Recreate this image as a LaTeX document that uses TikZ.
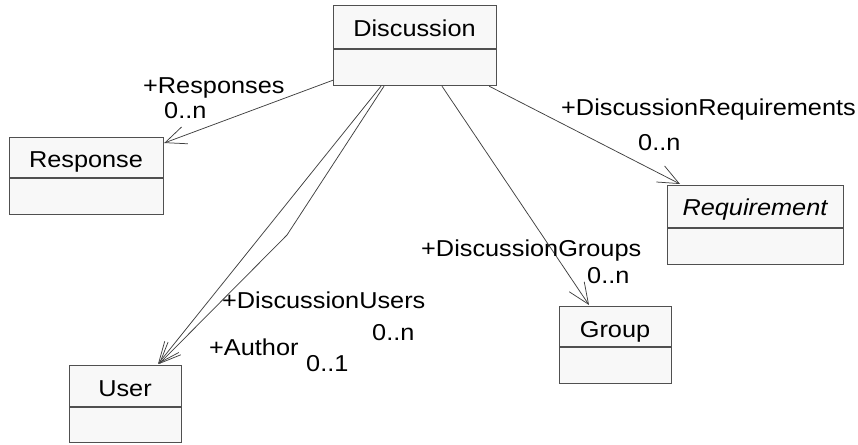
\documentclass[tikz,border=0pt]{standalone}
\usepackage{fontspec}
\setmainfont{Liberation Sans}[FakeStretch=1.1]
\usetikzlibrary{arrows.meta,calc}

\definecolor{boxfill}{HTML}{F8F8F8}
\definecolor{boxline}{HTML}{505050}
\definecolor{assocline}{HTML}{404040}

\tikzset{
  classbox/.style={draw=boxline, fill=boxfill, line width=1.2pt, inner sep=0pt,
                   anchor=north west},
  divider/.style={draw=boxline, line width=1.2pt},
  classname/.style={anchor=base, inner sep=0pt, font=\fontsize{23}{27}\selectfont},
  rolelabel/.style={anchor=base west, inner sep=0pt, font=\fontsize{23}{27}\selectfont},
  assoc/.style={draw=assocline, line width=0.75pt,
                -{Straight Barb[length=21pt,width=18pt,line width=0.75pt]}},
}

\begin{document}
\begin{tikzpicture}[x=1pt,y=-1pt]
  \useasboundingbox (0,0) rectangle (858,444);

  % ---- classes ----
  \node[classbox, minimum width=163pt, minimum height=80pt] (disc) at (333,5) {};
  \draw[divider] (333,49) -- (496,49);
  \node[classname] (disctext) at (414.5,37) {Discussion};

  \node[classbox, minimum width=154pt, minimum height=77pt] (resp) at (9,137) {};
  \draw[divider] (9,178) -- (163,178);
  \node[classname] (resptext) at (86,167) {Response};

  \node[classbox, minimum width=112pt, minimum height=77pt] (user) at (69,365) {};
  \draw[divider] (69,407) -- (181,407);
  \node[classname] (usertext) at (125,396) {User};

  \node[classbox, minimum width=112pt, minimum height=77pt] (grp) at (559,306) {};
  \draw[divider] (559,347) -- (671,347);
  \node[classname] (grptext) at (615,337) {Group};

  \node[classbox, minimum width=176pt, minimum height=79pt] (req) at (667,185) {};
  \draw[divider] (667,228) -- (843,228);
  \node[classname, font=\fontsize{23}{27}\selectfont\itshape] (reqtext) at (755,215) {Requirement};

  % ---- associations ----
  \coordinate (ubend) at (287,235);
  \draw[assoc] ($(disc.south west)+(0,-6)$) -- ($(resp.north east)+(0,6)$);
  \draw[assoc] ($(disc.south west)+(48,0)$) -- ($(user.north west)+(89,-1)$);
  \draw[assoc] ($(disc.south west)+(51,0)$) -- (ubend) -- ($(user.north west)+(90,-1)$);
  \draw[assoc] ($(disc.south west)+(109,0)$) -- ($(grp.north west)+(30,-1)$);
  \draw[assoc] ($(disc.south east)+(-8,0)$) -- ($(req.north west)+(13,-1)$);

  % ---- role names and multiplicities ----
  \node[rolelabel] (lresp) at (143,93) {+Responses};
  \node[rolelabel] (mresp) at (164,118) {0..n};
  \node[rolelabel] (lreq) at (561,115) {+DiscussionRequirements};
  \node[rolelabel] (mreq) at (638,150) {0..n};
  \node[rolelabel] (lgrp) at (421,256) {+DiscussionGroups};
  \node[rolelabel] (mgrp) at (587,283) {0..n};
  \node[rolelabel] (lusers) at (222,308) {+DiscussionUsers};
  \node[rolelabel] (musers) at (372,340) {0..n};
  \node[rolelabel] (lauthor) at (209,355) {+Author};
  \node[rolelabel] (mauthor) at (306,371) {0..1};
\end{tikzpicture}
\end{document}
